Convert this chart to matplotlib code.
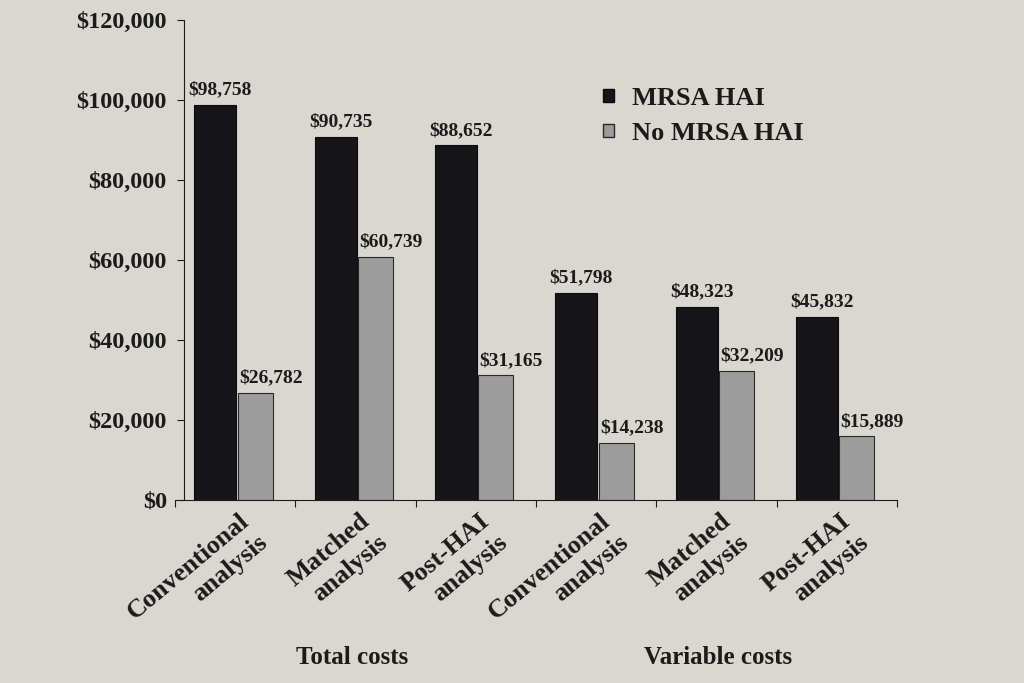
import numpy as np
import matplotlib.pyplot as plt
import matplotlib.transforms as mtransforms
from matplotlib.patches import Patch

categories = ["Conventional\nanalysis", "Matched\nanalysis", "Post-HAI\nanalysis",
              "Conventional\nanalysis", "Matched\nanalysis", "Post-HAI\nanalysis"]
mrsa = [98758, 90735, 88652, 51798, 48323, 45832]
no_mrsa = [26782, 60739, 31165, 14238, 32209, 15889]
groups = ["Total costs", "Variable costs"]
yticks = [0, 20000, 40000, 60000, 80000, 100000, 120000]

bg = '#d9d7d0'
ink = '#1b1b1b'
plt.rcParams['font.family'] = ['Liberation Serif', 'DejaVu Serif']
plt.rcParams['font.weight'] = 'bold'

fig = plt.figure(figsize=(10.24, 6.83), dpi=100, facecolor=bg)
ax = fig.add_axes([0.171, 0.268, 0.705, 0.703], facecolor=bg)

x = np.arange(len(categories))
w = 0.31
b1 = ax.bar(x - w / 2 - 0.01, mrsa, w + 0.04, color='#15151a', edgecolor='#0c0c0c', linewidth=0.8)
b2 = ax.bar(x + w / 2 + 0.01, no_mrsa, w - 0.02, color='#9c9c9c', edgecolor='#2a2a2a', linewidth=0.8)

for bars, vals, dx in ((b1, mrsa, 0.04), (b2, no_mrsa, 0.13)):
    for r, v in zip(bars, vals):
        ax.text(r.get_x() + r.get_width() / 2 + dx, v + 1600, "${:,}".format(v),
                ha='center', va='bottom', fontsize=14, fontweight='bold', color=ink)

ax.set_xlim(-0.5, 5.5)
ax.set_ylim(0, 120000)
ax.set_yticks(yticks)
ax.set_yticklabels(["${:,}".format(t) for t in yticks])
ax.set_xticks(np.arange(-0.5, 6, 1))
ax.set_xticklabels([])
ax.tick_params(axis='x', length=5, direction='out', color=ink)
ax.tick_params(axis='y', length=5, direction='out', color=ink, pad=7,
               labelsize=17.5, labelcolor=ink)

trans = mtransforms.blended_transform_factory(ax.transData, ax.transAxes)
for i, lab in enumerate(categories):
    ax.text(i + 0.03, -0.02, lab, transform=trans, rotation=40, rotation_mode='anchor',
            ha='right', va='top', multialignment='right', fontsize=19,
            fontweight='bold', color=ink, linespacing=1.25)

for s in ('top', 'right'):
    ax.spines[s].set_visible(False)
ax.spines['left'].set_position(('data', -0.43))
ax.spines['left'].set_color(ink)
ax.spines['bottom'].set_color(ink)

fig.text(352 / 1024, 1 - 657 / 683, groups[0], ha='center', va='center', fontsize=18,
         fontweight='bold', color=ink)
fig.text(718 / 1024, 1 - 657 / 683, groups[1], ha='center', va='center', fontsize=18,
         fontweight='bold', color=ink)

handles = [Patch(facecolor='#15151a', edgecolor='#0c0c0c', label='MRSA HAI'),
           Patch(facecolor='#9c9c9c', edgecolor='#2a2a2a', label='No MRSA HAI')]
leg = ax.legend(handles=handles, loc='upper left', bbox_to_anchor=(0.56, 0.91), frameon=False,
                handlelength=0.4, handleheight=0.4, handletextpad=0.7, labelspacing=0.45,
                prop={'size': 19, 'weight': 'bold'})
for t in leg.get_texts():
    t.set_color(ink)

fig.savefig('out.png', dpi=100, facecolor=bg)
